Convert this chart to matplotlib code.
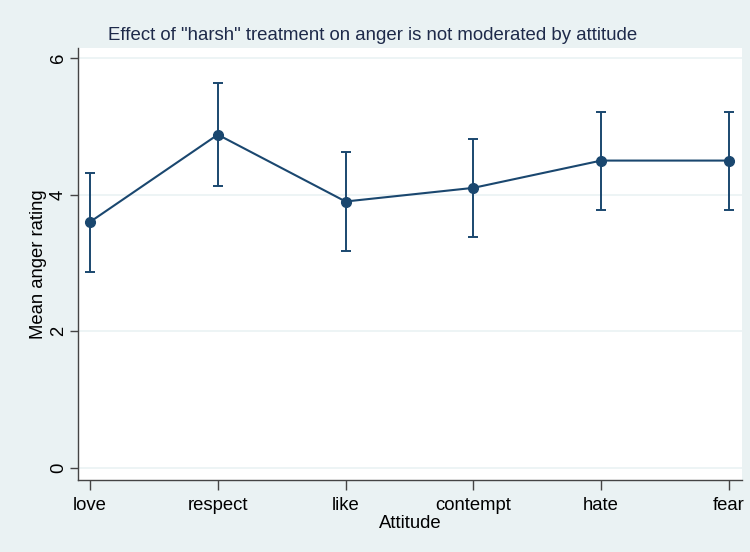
import numpy as np
import matplotlib.pyplot as plt

# mean anger rating by attitude, with 95% CI bounds
attitudes = ['love', 'respect', 'like', 'contempt', 'hate', 'fear']
mean_anger = [3.6, 4.88, 3.9, 4.1, 4.5, 4.5]
ci_low = [2.87, 4.13, 3.17, 3.38, 3.78, 3.78]
ci_high = [4.32, 5.63, 4.62, 4.81, 5.21, 5.21]

navy = '#1a476f'
bg = '#eaf2f3'

plt.rcParams['font.family'] = ['Liberation Sans', 'DejaVu Sans']

fig = plt.figure(figsize=(7.5, 5.52), dpi=100)
fig.patch.set_facecolor(bg)
ax = fig.add_axes([0.104, 0.1304, 0.885, 0.7826])
ax.set_facecolor('white')

x = np.arange(len(attitudes))
mean = np.array(mean_anger)
yerr = [mean - np.array(ci_low), np.array(ci_high) - mean]

ax.errorbar(x, mean, yerr=yerr, color=navy, ecolor=navy, lw=1.5,
            elinewidth=1.4, capsize=3.5, capthick=1.4, marker='o',
            markersize=7, zorder=3)

ax.set_xlim(-0.094, 5.1)
ax.set_ylim(-0.183, 6.15)
ax.set_xticks(x)
ax.set_xticklabels(attitudes, fontsize=13.3)
ax.set_yticks([0, 2, 4, 6])
ax.set_yticklabels(['0', '2', '4', '6'], fontsize=13.3, rotation=90, va='center')
ax.yaxis.grid(True, color=bg, lw=1.2)
ax.set_axisbelow(True)

for side in ['top', 'right']:
    ax.spines[side].set_visible(False)
for side in ['left', 'bottom']:
    ax.spines[side].set_color('#444444')
    ax.spines[side].set_linewidth(1.0)
ax.tick_params(axis='x', length=7, width=1, color='#444444', pad=5)
ax.tick_params(axis='y', length=6, width=1, color='#444444', pad=2)

ax.set_xlabel('Attitude', fontsize=13.3, labelpad=1)
ax.set_ylabel('Mean anger rating', fontsize=13.3, labelpad=2)
fig.text(0.497, 0.936, 'Effect of "harsh" treatment on anger is not moderated by attitude',
         ha='center', va='center', fontsize=13.4, color='#1e2a4a')

fig.savefig('out.png', dpi=100, facecolor=bg)
